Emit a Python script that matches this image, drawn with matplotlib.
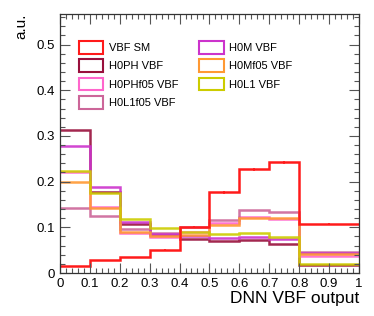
import matplotlib
matplotlib.use('Agg')
import matplotlib.pyplot as plt
from matplotlib.patches import Patch
from matplotlib.ticker import MultipleLocator, FuncFormatter

plt.rcParams['font.family'] = ['Liberation Sans', 'DejaVu Sans']

# bin edges of the DNN output (last bin is 0.8-1.0)
edges = [0.0, 0.1, 0.2, 0.3, 0.4, 0.5, 0.6, 0.7, 0.8, 1.0]

vbf_sm = [0.015, 0.028, 0.034, 0.050, 0.100, 0.177, 0.227, 0.242, 0.108]
vbf_sm_err = [0.001, 0.001, 0.001, 0.002, 0.002, 0.003, 0.003, 0.004, 0.002]
h0ph = [0.312, 0.177, 0.107, 0.084, 0.075, 0.070, 0.073, 0.064, 0.017]
h0phf05 = [0.221, 0.145, 0.087, 0.078, 0.090, 0.109, 0.122, 0.119, 0.037]
h0l1f05 = [0.143, 0.124, 0.097, 0.088, 0.100, 0.115, 0.138, 0.134, 0.047]
h0m = [0.279, 0.188, 0.111, 0.086, 0.081, 0.076, 0.078, 0.074, 0.044]
h0mf05 = [0.200, 0.142, 0.090, 0.080, 0.084, 0.104, 0.120, 0.121, 0.042]
h0l1 = [0.224, 0.175, 0.118, 0.098, 0.090, 0.086, 0.088, 0.078, 0.020]

labels = ['VBF SM', 'H0PH VBF', 'H0PHf05 VBF', 'H0L1f05 VBF',
          'H0M VBF', 'H0Mf05 VBF', 'H0L1 VBF']
colors = ['#ff1a1a', '#99103c', '#ff66cc', '#cc6699',
          '#cc33cc', '#ff9933', '#cccc00']
series = [vbf_sm, h0ph, h0phf05, h0l1f05, h0m, h0mf05, h0l1]

fig = plt.figure(figsize=(3.74, 3.16), dpi=100)
ax = fig.add_axes([0.160, 0.136, 0.800, 0.820])

# signal hypotheses first, SM on top
for vals, c in list(zip(series, colors))[1:]:
    ax.stairs(vals, edges, baseline=None, color=c, lw=1.8, alpha=0.9)
ax.stairs(vbf_sm, edges, baseline=None, color=colors[0], lw=1.8)
centers = [(edges[i] + edges[i + 1]) / 2 for i in range(len(vbf_sm))]
ax.errorbar(centers, vbf_sm, yerr=vbf_sm_err, fmt='none', ecolor=colors[0], lw=1.2)

ax.set_xlim(0, 1)
ax.set_ylim(0, 0.567)
ax.xaxis.set_major_locator(MultipleLocator(0.1))
ax.xaxis.set_minor_locator(MultipleLocator(0.02))
ax.yaxis.set_major_locator(MultipleLocator(0.1))
ax.yaxis.set_minor_locator(MultipleLocator(0.02))
fmt = FuncFormatter(lambda v, p: '%g' % round(v, 2))
ax.xaxis.set_major_formatter(fmt)
ax.yaxis.set_major_formatter(fmt)
ax.tick_params(which='both', direction='in', top=True, right=True, labelsize=9.5)
ax.tick_params(which='major', length=7, width=0.8, color='#555555')
ax.tick_params(which='minor', length=3.5, width=0.8, color='#555555')
for s in ax.spines.values():
    s.set_linewidth(0.9)
    s.set_color('#333333')

ax.set_xlabel('DNN VBF output', loc='right', fontsize=12.5, labelpad=1)
ax.set_ylabel('a.u.', loc='top', fontsize=11, labelpad=6)

handles = [Patch(facecolor='white', edgecolor=c, lw=1.5) for c in colors]
leg = ax.legend(handles, labels, ncol=2, loc='upper left', bbox_to_anchor=(0.03, 0.935),
                frameon=False, fontsize=8, handlelength=2.2, handleheight=1.4,
                labelspacing=0.5, columnspacing=1.9, handletextpad=0.5)

plt.savefig('out.png', dpi=100)
